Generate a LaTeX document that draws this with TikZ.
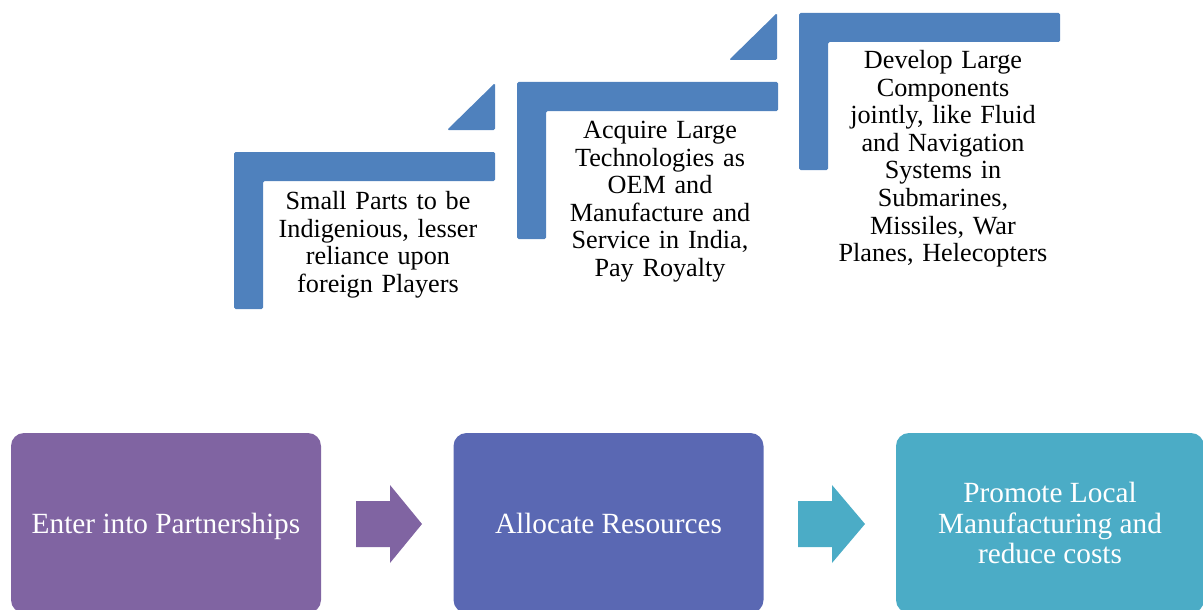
\documentclass[tikz,border=0pt]{standalone}
\usepackage{fontspec}
\setmainfont{Liberation Serif}
\definecolor{stepblue}{HTML}{4F81BD}
\definecolor{boxpurple}{HTML}{8064A2}
\definecolor{boxindigo}{HTML}{5A68B3}
\definecolor{boxteal}{HTML}{4BACC6}
\tikzset{
  stepshape/.style={fill=stepblue, rounded corners=1.5pt},
  steptext/.style={text width=250pt, align=center, anchor=base, inner sep=0pt,
    font=\fontsize{26.2}{27.6}\selectfont, text=black},
  procbox/.style={rounded corners=13pt, minimum width=310pt, minimum height=180pt,
    inner sep=0pt, align=center, text=white, font=\fontsize{29.3}{30.5}\selectfont},
  oneline/.style={text height=20pt, text depth=0pt}
}
\begin{document}
\begin{tikzpicture}[x=1pt,y=-1pt]
\useasboundingbox (0,0) rectangle (1203,610);
\clip (0,0) rectangle (1203,610);
% steps: L-shapes and triangles
\foreach \dx/\dy in {0/0, 283/-70, 565/-139}{
  \begin{scope}[shift={(\dx,\dy)}]
    \fill[stepshape] (234,152) -- (495,152) -- (495,181) -- (263,181) -- (263,309) -- (234,309) -- cycle;
  \end{scope}
}
\fill[stepshape] (447,130) -- (495,130) -- (495,83) -- cycle;
\fill[stepshape] (729,60) -- (777,60) -- (777,13) -- cycle;
% step texts
\node[steptext] (s1) at (378,209.5) {Small Parts to be\\Indigenious, lesser\\reliance upon\\foreign Players};
\node[steptext] (s2) at (660,138.5) {Acquire Large\\Technologies as\\OEM and\\Manufacture and\\Service in India,\\Pay Royalty};
\node[steptext] (s3) at (943,68.5) {Develop Large\\Components\\jointly, like Fluid\\and Navigation\\Systems in\\Submarines,\\Missiles, War\\Planes, Helecopters};
% process boxes
\node[procbox, oneline, fill=boxpurple] (b1) at (166,523) {Enter into Partnerships};
\node[procbox, oneline, fill=boxindigo] (b2) at (608.5,523) {Allocate Resources};
\node[procbox, fill=boxteal, minimum width=308pt] (b3) at (1050,523) {Promote Local\\Manufacturing and\\reduce costs};
% block arrows
\fill[boxpurple] (356,501) -- (390,501) -- (390,485) -- (422,524) -- (390,563) -- (390,547) -- (356,547) -- cycle;
\fill[boxteal] (798,501) -- (832,501) -- (832,485) -- (865,524) -- (832,563) -- (832,547) -- (798,547) -- cycle;
\end{tikzpicture}
\end{document}
